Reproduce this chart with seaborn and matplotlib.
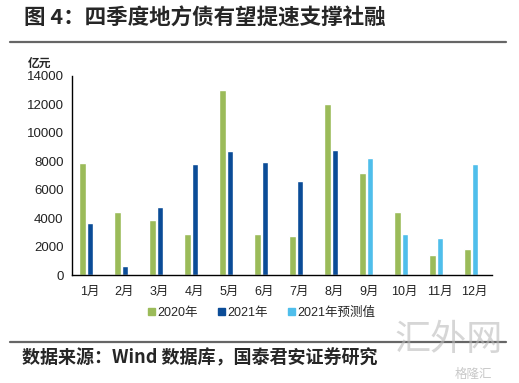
import matplotlib
matplotlib.use("Agg")
import matplotlib.pyplot as plt
import seaborn as sns
import numpy as np
import pandas as pd

months = ["1月", "2月", "3月", "4月", "5月", "6月", "7月", "8月", "9月", "10月", "11月", "12月"]
v2020 = [7850, 4400, 3900, 2900, 13000, 2900, 2750, 12000, 7200, 4450, 1400, 1850]
v2021 = [3650, 600, 4800, 7800, 8750, 7950, 6600, 8800, 8200, 2900, 2600, 7800]
is_forecast = [False] * 8 + [True] * 4
legend_names = ["2020年", "2021年", "2021年预测值"]
colors = ["#9BBB59", "#0B4C97", "#4FBEEB"]

sns.set_theme(style="white")
plt.rcParams["font.family"] = ["Liberation Sans", "Noto Sans CJK SC", "DejaVu Sans"]

df = pd.DataFrame({
    "month": months * 2,
    "value": v2020 + v2021,
    "series": ["2020"] * 12 + ["2021"] * 12,
})

fig = plt.figure(figsize=(5.19, 3.83), dpi=100)
ax = fig.add_axes([72 / 519, 1 - 275 / 383, 420 / 519, 199 / 383])

sns.barplot(data=df, x="month", y="value", hue="series", palette=colors[:2],
            width=0.43, gap=0.13, saturation=1, legend=False, ax=ax)

# recolour forecast bars of the 2021 series
bars_2021 = ax.containers[1]
for bar, fc in zip(bars_2021, is_forecast):
    if fc:
        bar.set_facecolor(colors[2])

shift = 0.09
ax.set_xlim(-0.5 + shift, 11.5 + shift)
ax.set_ylim(0, 14000)
ax.set_yticks(range(0, 14001, 2000))
ax.set_xticks(np.arange(12) + shift)
ax.set_xticklabels(months, fontsize=9, color="#222222")
ax.set_xticks(np.arange(13) - 0.5 + shift, minor=True)
ax.tick_params(axis="x", which="major", length=0, pad=8)
ax.tick_params(axis="x", which="minor", length=4, width=1, color="black", direction="out")
ax.tick_params(axis="y", length=3, width=1, color="black", direction="out", labelsize=9.5,
               pad=3, labelcolor="#222222")
ax.set_xlabel("")
ax.set_ylabel("")
for s in ["top", "right"]:
    ax.spines[s].set_visible(False)
for s in ["left", "bottom"]:
    ax.spines[s].set_color("black")
    ax.spines[s].set_linewidth(1)

# legend
handles = [plt.Rectangle((0, 0), 1, 1, color=c) for c in colors]
fig.legend(handles, legend_names, loc="center", bbox_to_anchor=(262 / 519, 1 - 313 / 383),
           ncol=3, frameon=False, fontsize=9, handlelength=0.55, handleheight=0.55,
           handletextpad=0.2, columnspacing=1.6)

fig.text(28 / 519, 1 - 63 / 383, "亿元", fontsize=8.5, fontweight="bold", va="center",
         family=["Noto Sans CJK SC"], style="italic")

# title, rules, footer
fig.text(24 / 519, 1 - 18 / 383, "图 4：四季度地方债有望提速支撑社融", fontsize=15.5,
         fontweight="bold", va="center", family=["Noto Sans CJK SC"])
fig.add_artist(plt.Line2D([10 / 519, 506 / 519], [1 - 42 / 383] * 2, color="#666666", lw=1.6))
fig.add_artist(plt.Line2D([10 / 519, 506 / 519], [1 - 342 / 383] * 2, color="#666666", lw=1.6))
fig.text(22 / 519, 1 - 358 / 383, "数据来源：Wind 数据库，国泰君安证券研究", fontsize=13,
         fontweight="bold", va="center", family=["Noto Sans CJK SC"])

# watermark
fig.text(394 / 519, 1 - 340 / 383, "汇外网", fontsize=26, color="#bbbbbb", alpha=0.6,
         va="center", family=["Noto Sans CJK SC"])
fig.text(455 / 519, 1 - 374 / 383, "格隆汇", fontsize=9, color="#bbbbbb", alpha=0.8,
         va="center", family=["Noto Sans CJK SC"])

fig.savefig("out.png", dpi=100)
